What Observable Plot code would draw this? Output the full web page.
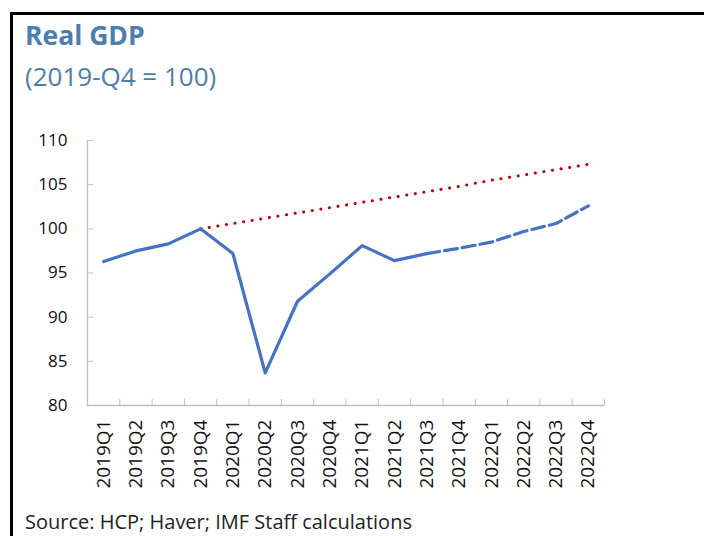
<!DOCTYPE html>
<html>
<head>
<meta charset="utf-8">
<script src="https://cdn.jsdelivr.net/npm/d3@7"></script>
<script src="https://cdn.jsdelivr.net/npm/@observablehq/plot@0.6"></script>
<style>
  html, body { margin: 0; padding: 0; background: #fff; overflow: hidden; }
  body { width: 704px; height: 536px; position: relative; font-family: "Open Sans", "Noto Sans", sans-serif; }
  #frame { position: absolute; left: 10px; top: 12px; width: 700px; height: 540px; border-top: 3px solid #000; border-left: 3px solid #000; box-sizing: border-box; }
  #title { position: absolute; left: 25px; top: 17px; font-size: 26.5px; font-weight: 700; color: #4a7eae; white-space: nowrap; }
  #subtitle { position: absolute; left: 25px; top: 58px; font-size: 26px; font-weight: 400; color: #4a7eae; white-space: nowrap; }
  #chart { position: absolute; left: 0; top: 0; }
  #source { position: absolute; left: 25px; top: 509px; font-size: 20px; line-height: 26px; color: #222; white-space: nowrap; }
</style>
</head>
<body>
<div id="frame"></div>
<div id="chart"></div>
<div id="title">Real GDP</div>
<div id="subtitle">(2019-Q4 = 100)</div>
<div id="source">Source: HCP; Haver; IMF Staff calculations</div>
<script>
const quarters = ["2019Q1","2019Q2","2019Q3","2019Q4","2020Q1","2020Q2","2020Q3","2020Q4",
                  "2021Q1","2021Q2","2021Q3","2021Q4","2022Q1","2022Q2","2022Q3","2022Q4"];
// Actual real GDP, 2019Q1–2021Q3
const actual = [96.3, 97.5, 98.3, 100.0, 97.2, 83.7, 91.8, 94.9, 98.1, 96.4, 97.2];
// Projection, 2021Q3–2022Q4
const projection = [97.2, 97.8, 98.5, 99.7, 100.6, 102.6];
// Pre-crisis trend, 2019Q4–2022Q4
const trend = [100.0, 100.6, 101.2, 101.8, 102.4, 103.0, 103.6, 104.2, 104.8, 105.5, 106.1, 106.7, 107.3];
const yTicks = [80, 85, 90, 95, 100, 105, 110];

const actualData = actual.map((v, i) => ({i, v}));
const projStart = quarters.indexOf("2021Q3");
const projData = projection.map((v, k) => ({i: projStart + k, v}));
const trendStart = quarters.indexOf("2019Q4");
const trendData = trend.map((v, k) => ({i: trendStart + k, v}));

const xMin = -0.5, xMax = quarters.length - 0.5;
const boundaries = d3.range(quarters.length + 1).map(k => k - 0.5);
const centers = d3.range(quarters.length);
const yMin = yTicks[0], yMax = yTicks[yTicks.length - 1];
const axisGray = "#bfbfbf";
const blue = "#4472c4";

const chart = Plot.plot({
  width: 704,
  height: 500,
  marginLeft: 87,
  marginRight: 100,
  marginTop: 140,
  marginBottom: 95,
  style: {fontFamily: "'Open Sans', 'Noto Sans', sans-serif", background: "transparent", overflow: "visible"},
  x: {type: "linear", domain: [xMin, xMax]},
  y: {type: "linear", domain: [yMin, yMax]},
  marks: [
    Plot.axisY({ticks: yTicks, tickSize: 0, tickPadding: 20, fontSize: 17, color: "#111", label: null}),
    Plot.axisY({ticks: yTicks, tickSize: -6, tickFormat: () => "", stroke: axisGray, label: null}),
    Plot.axisX({ticks: boundaries, tickSize: -6, tickFormat: () => "", stroke: axisGray, label: null}),
    Plot.axisX({ticks: centers, tickSize: 0, tickPadding: 14, tickRotate: -90, fontSize: 19, color: "#111",
                tickFormat: i => quarters[i], label: null}),
    Plot.ruleX([xMin], {stroke: axisGray, strokeWidth: 1.3}),
    Plot.ruleY([yMin], {stroke: axisGray, strokeWidth: 1.3}),
    Plot.line(trendData, {x: "i", y: "v", stroke: "#c00000", strokeWidth: 3, strokeDasharray: "0.1,8.6", strokeLinecap: "round"}),
    Plot.line(projData, {x: "i", y: "v", stroke: blue, strokeWidth: 3.2, strokeDasharray: "13,5"}),
    Plot.line(actualData, {x: "i", y: "v", stroke: blue, strokeWidth: 3.2, strokeLinejoin: "round"})
  ]
});
document.getElementById("chart").appendChild(chart);
</script>
</body>
</html>
